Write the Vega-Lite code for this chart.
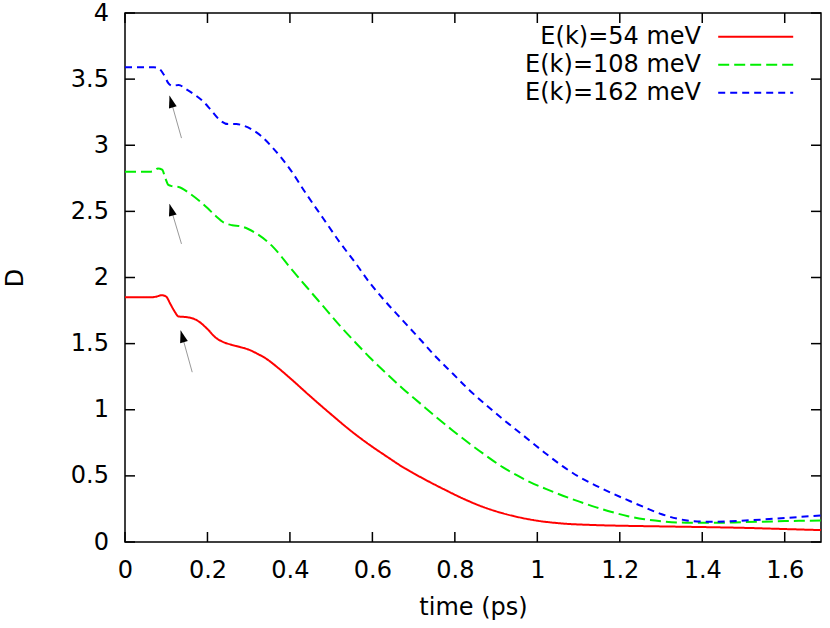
{
  "$schema": "https://vega.github.io/schema/vega-lite/v6.json",
  "width": 696,
  "height": 529,
  "autosize": {"type": "none"},
  "padding": {"left": 125, "top": 13, "right": 9, "bottom": 86},
  "config": {
    "view": {"stroke": "black", "strokeWidth": 1.5},
    "font": "DejaVu Sans",
    "axis": {
      "domain": false,
      "ticks": false,
      "tickSize": 0,
      "grid": false,
      "labelFont": "DejaVu Sans",
      "labelFontSize": 24,
      "labelColor": "black",
      "labelFlush": false,
      "labelOverlap": false,
      "titleFont": "DejaVu Sans",
      "titleFontSize": 24,
      "titleFontWeight": "normal",
      "titleColor": "black"
    },
    "legend": {
      "orient": "none",
      "legendX": 617.2,
      "legendY": 10.2,
      "padding": 0,
      "symbolType": "M-3,0L3,0",
      "symbolSize": 625,
      "symbolStrokeWidth": 2,
      "labelFont": "DejaVu Sans",
      "labelFontSize": 24,
      "labelColor": "black",
      "labelAlign": "right",
      "labelOffset": -68.2,
      "labelLimit": 0,
      "rowPadding": 2
    }
  },
  "datasets": {
    "xticks": [
      {"v": 0}, {"v": 0.2}, {"v": 0.4}, {"v": 0.6}, {"v": 0.8},
      {"v": 1}, {"v": 1.2}, {"v": 1.4}, {"v": 1.6}
    ],
    "yticks": [
      {"v": 0}, {"v": 0.5}, {"v": 1}, {"v": 1.5}, {"v": 2},
      {"v": 2.5}, {"v": 3}, {"v": 3.5}, {"v": 4}
    ],
    "curves": [
      {"series": "E(k)=54 meV", "t": 0, "D": 1.85},
      {"series": "E(k)=54 meV", "t": 0.065, "D": 1.85},
      {"series": "E(k)=54 meV", "t": 0.075, "D": 1.855},
      {"series": "E(k)=54 meV", "t": 0.09, "D": 1.866},
      {"series": "E(k)=54 meV", "t": 0.1, "D": 1.855},
      {"series": "E(k)=54 meV", "t": 0.11, "D": 1.8},
      {"series": "E(k)=54 meV", "t": 0.12, "D": 1.745},
      {"series": "E(k)=54 meV", "t": 0.13, "D": 1.705},
      {"series": "E(k)=54 meV", "t": 0.15, "D": 1.7},
      {"series": "E(k)=54 meV", "t": 0.165, "D": 1.69},
      {"series": "E(k)=54 meV", "t": 0.18, "D": 1.665},
      {"series": "E(k)=54 meV", "t": 0.2, "D": 1.61},
      {"series": "E(k)=54 meV", "t": 0.22, "D": 1.545},
      {"series": "E(k)=54 meV", "t": 0.24, "D": 1.51},
      {"series": "E(k)=54 meV", "t": 0.26, "D": 1.49},
      {"series": "E(k)=54 meV", "t": 0.28, "D": 1.473},
      {"series": "E(k)=54 meV", "t": 0.3, "D": 1.455},
      {"series": "E(k)=54 meV", "t": 0.32, "D": 1.425},
      {"series": "E(k)=54 meV", "t": 0.343, "D": 1.385},
      {"series": "E(k)=54 meV", "t": 0.37, "D": 1.32},
      {"series": "E(k)=54 meV", "t": 0.4, "D": 1.24},
      {"series": "E(k)=54 meV", "t": 0.45, "D": 1.1},
      {"series": "E(k)=54 meV", "t": 0.5, "D": 0.965},
      {"series": "E(k)=54 meV", "t": 0.55, "D": 0.835},
      {"series": "E(k)=54 meV", "t": 0.593, "D": 0.735},
      {"series": "E(k)=54 meV", "t": 0.634, "D": 0.648},
      {"series": "E(k)=54 meV", "t": 0.674, "D": 0.566},
      {"series": "E(k)=54 meV", "t": 0.72, "D": 0.485},
      {"series": "E(k)=54 meV", "t": 0.779, "D": 0.39},
      {"series": "E(k)=54 meV", "t": 0.82, "D": 0.328},
      {"series": "E(k)=54 meV", "t": 0.86, "D": 0.275},
      {"series": "E(k)=54 meV", "t": 0.9, "D": 0.232},
      {"series": "E(k)=54 meV", "t": 0.94, "D": 0.198},
      {"series": "E(k)=54 meV", "t": 0.99, "D": 0.166},
      {"series": "E(k)=54 meV", "t": 1.06, "D": 0.14},
      {"series": "E(k)=54 meV", "t": 1.14, "D": 0.128},
      {"series": "E(k)=54 meV", "t": 1.22, "D": 0.122},
      {"series": "E(k)=54 meV", "t": 1.3, "D": 0.118},
      {"series": "E(k)=54 meV", "t": 1.4, "D": 0.113},
      {"series": "E(k)=54 meV", "t": 1.5, "D": 0.107},
      {"series": "E(k)=54 meV", "t": 1.6, "D": 0.098},
      {"series": "E(k)=54 meV", "t": 1.688, "D": 0.09},
      {"series": "E(k)=108 meV", "t": 0, "D": 2.8},
      {"series": "E(k)=108 meV", "t": 0.06, "D": 2.8},
      {"series": "E(k)=108 meV", "t": 0.07, "D": 2.805},
      {"series": "E(k)=108 meV", "t": 0.08, "D": 2.825},
      {"series": "E(k)=108 meV", "t": 0.09, "D": 2.815},
      {"series": "E(k)=108 meV", "t": 0.098, "D": 2.75},
      {"series": "E(k)=108 meV", "t": 0.105, "D": 2.7},
      {"series": "E(k)=108 meV", "t": 0.115, "D": 2.69},
      {"series": "E(k)=108 meV", "t": 0.13, "D": 2.685},
      {"series": "E(k)=108 meV", "t": 0.157, "D": 2.635},
      {"series": "E(k)=108 meV", "t": 0.18, "D": 2.58},
      {"series": "E(k)=108 meV", "t": 0.2, "D": 2.525},
      {"series": "E(k)=108 meV", "t": 0.22, "D": 2.465},
      {"series": "E(k)=108 meV", "t": 0.24, "D": 2.415},
      {"series": "E(k)=108 meV", "t": 0.26, "D": 2.395},
      {"series": "E(k)=108 meV", "t": 0.28, "D": 2.388},
      {"series": "E(k)=108 meV", "t": 0.3, "D": 2.365},
      {"series": "E(k)=108 meV", "t": 0.32, "D": 2.33},
      {"series": "E(k)=108 meV", "t": 0.36, "D": 2.228},
      {"series": "E(k)=108 meV", "t": 0.4, "D": 2.077},
      {"series": "E(k)=108 meV", "t": 0.44, "D": 1.93},
      {"series": "E(k)=108 meV", "t": 0.48, "D": 1.785},
      {"series": "E(k)=108 meV", "t": 0.52, "D": 1.64},
      {"series": "E(k)=108 meV", "t": 0.56, "D": 1.505},
      {"series": "E(k)=108 meV", "t": 0.593, "D": 1.397},
      {"series": "E(k)=108 meV", "t": 0.634, "D": 1.275},
      {"series": "E(k)=108 meV", "t": 0.674, "D": 1.159},
      {"series": "E(k)=108 meV", "t": 0.715, "D": 1.05},
      {"series": "E(k)=108 meV", "t": 0.755, "D": 0.944},
      {"series": "E(k)=108 meV", "t": 0.796, "D": 0.84},
      {"series": "E(k)=108 meV", "t": 0.836, "D": 0.743},
      {"series": "E(k)=108 meV", "t": 0.876, "D": 0.652},
      {"series": "E(k)=108 meV", "t": 0.916, "D": 0.566},
      {"series": "E(k)=108 meV", "t": 0.95, "D": 0.505},
      {"series": "E(k)=108 meV", "t": 0.981, "D": 0.455},
      {"series": "E(k)=108 meV", "t": 1.022, "D": 0.4},
      {"series": "E(k)=108 meV", "t": 1.062, "D": 0.35},
      {"series": "E(k)=108 meV", "t": 1.102, "D": 0.305},
      {"series": "E(k)=108 meV", "t": 1.143, "D": 0.262},
      {"series": "E(k)=108 meV", "t": 1.183, "D": 0.225},
      {"series": "E(k)=108 meV", "t": 1.22, "D": 0.195},
      {"series": "E(k)=108 meV", "t": 1.26, "D": 0.172},
      {"series": "E(k)=108 meV", "t": 1.3, "D": 0.157},
      {"series": "E(k)=108 meV", "t": 1.36, "D": 0.146},
      {"series": "E(k)=108 meV", "t": 1.42, "D": 0.145},
      {"series": "E(k)=108 meV", "t": 1.5, "D": 0.15},
      {"series": "E(k)=108 meV", "t": 1.6, "D": 0.158},
      {"series": "E(k)=108 meV", "t": 1.688, "D": 0.163},
      {"series": "E(k)=162 meV", "t": 0, "D": 3.59},
      {"series": "E(k)=162 meV", "t": 0.07, "D": 3.59},
      {"series": "E(k)=162 meV", "t": 0.08, "D": 3.585},
      {"series": "E(k)=162 meV", "t": 0.095, "D": 3.53},
      {"series": "E(k)=162 meV", "t": 0.105, "D": 3.47},
      {"series": "E(k)=162 meV", "t": 0.115, "D": 3.45},
      {"series": "E(k)=162 meV", "t": 0.13, "D": 3.455},
      {"series": "E(k)=162 meV", "t": 0.15, "D": 3.42},
      {"series": "E(k)=162 meV", "t": 0.17, "D": 3.38},
      {"series": "E(k)=162 meV", "t": 0.19, "D": 3.33},
      {"series": "E(k)=162 meV", "t": 0.21, "D": 3.26},
      {"series": "E(k)=162 meV", "t": 0.23, "D": 3.19},
      {"series": "E(k)=162 meV", "t": 0.25, "D": 3.16},
      {"series": "E(k)=162 meV", "t": 0.27, "D": 3.16},
      {"series": "E(k)=162 meV", "t": 0.29, "D": 3.145},
      {"series": "E(k)=162 meV", "t": 0.31, "D": 3.115},
      {"series": "E(k)=162 meV", "t": 0.33, "D": 3.07},
      {"series": "E(k)=162 meV", "t": 0.36, "D": 2.975},
      {"series": "E(k)=162 meV", "t": 0.4, "D": 2.82},
      {"series": "E(k)=162 meV", "t": 0.44, "D": 2.63},
      {"series": "E(k)=162 meV", "t": 0.48, "D": 2.45},
      {"series": "E(k)=162 meV", "t": 0.52, "D": 2.27},
      {"series": "E(k)=162 meV", "t": 0.56, "D": 2.105},
      {"series": "E(k)=162 meV", "t": 0.593, "D": 1.962},
      {"series": "E(k)=162 meV", "t": 0.634, "D": 1.81},
      {"series": "E(k)=162 meV", "t": 0.674, "D": 1.674},
      {"series": "E(k)=162 meV", "t": 0.715, "D": 1.535},
      {"series": "E(k)=162 meV", "t": 0.755, "D": 1.397},
      {"series": "E(k)=162 meV", "t": 0.796, "D": 1.27},
      {"series": "E(k)=162 meV", "t": 0.836, "D": 1.146},
      {"series": "E(k)=162 meV", "t": 0.876, "D": 1.035},
      {"series": "E(k)=162 meV", "t": 0.916, "D": 0.93},
      {"series": "E(k)=162 meV", "t": 0.95, "D": 0.845},
      {"series": "E(k)=162 meV", "t": 0.981, "D": 0.768},
      {"series": "E(k)=162 meV", "t": 1.022, "D": 0.665},
      {"series": "E(k)=162 meV", "t": 1.062, "D": 0.572},
      {"series": "E(k)=162 meV", "t": 1.102, "D": 0.491},
      {"series": "E(k)=162 meV", "t": 1.143, "D": 0.425},
      {"series": "E(k)=162 meV", "t": 1.183, "D": 0.366},
      {"series": "E(k)=162 meV", "t": 1.224, "D": 0.31},
      {"series": "E(k)=162 meV", "t": 1.26, "D": 0.262},
      {"series": "E(k)=162 meV", "t": 1.3, "D": 0.212},
      {"series": "E(k)=162 meV", "t": 1.34, "D": 0.176},
      {"series": "E(k)=162 meV", "t": 1.38, "D": 0.157},
      {"series": "E(k)=162 meV", "t": 1.42, "D": 0.153},
      {"series": "E(k)=162 meV", "t": 1.47, "D": 0.157},
      {"series": "E(k)=162 meV", "t": 1.52, "D": 0.165},
      {"series": "E(k)=162 meV", "t": 1.58, "D": 0.177},
      {"series": "E(k)=162 meV", "t": 1.63, "D": 0.188},
      {"series": "E(k)=162 meV", "t": 1.688, "D": 0.2}
    ],
    "arrows": [
      {"tail_t": 0.137, "tail_D": 3.054, "head_t": 0.108, "head_D": 3.374},
      {"tail_t": 0.137, "tail_D": 2.254, "head_t": 0.108, "head_D": 2.556},
      {"tail_t": 0.163, "tail_D": 1.284, "head_t": 0.135, "head_D": 1.599}
    ]
  },
  "layer": [
    {
      "data": {"name": "curves"},
      "mark": {"type": "line", "strokeWidth": 2, "interpolate": "monotone"},
      "encoding": {
        "x": {
          "field": "t",
          "type": "quantitative",
          "scale": {"domain": [0, 1.688], "nice": false, "zero": false},
          "axis": {
            "orient": "bottom",
            "values": [0, 0.2, 0.4, 0.6, 0.8, 1, 1.2, 1.4, 1.6],
            "format": "~g",
            "labelBaseline": "alphabetic",
            "labelPadding": 35.6,
            "title": "time (ps)",
            "titleBaseline": "alphabetic",
            "titleY": 72
          }
        },
        "y": {
          "field": "D",
          "type": "quantitative",
          "scale": {"domain": [0, 4], "nice": false},
          "axis": {
            "orient": "left",
            "values": [0, 0.5, 1, 1.5, 2, 2.5, 3, 3.5, 4],
            "format": "~g",
            "labelPadding": 16.5,
            "title": "D",
            "titleAngle": 270,
            "titleBaseline": "alphabetic",
            "titleX": -103,
            "titleY": 264.5
          }
        },
        "color": {
          "field": "series",
          "type": "nominal",
          "title": null,
          "scale": {
            "domain": ["E(k)=54 meV", "E(k)=108 meV", "E(k)=162 meV"],
            "range": ["#ff0000", "#00ee00", "#0000ff"]
          }
        },
        "strokeDash": {
          "field": "series",
          "type": "nominal",
          "title": null,
          "scale": {
            "domain": ["E(k)=54 meV", "E(k)=108 meV", "E(k)=162 meV"],
            "range": [[1, 0], [11, 5], [7, 5]]
          }
        }
      }
    },
    {
      "data": {"name": "xticks"},
      "mark": {"type": "rule", "color": "black", "strokeWidth": 1.5},
      "encoding": {
        "x": {"field": "v", "type": "quantitative"},
        "y": {"datum": 0, "type": "quantitative"},
        "y2": {"datum": 0.0756}
      }
    },
    {
      "data": {"name": "xticks"},
      "mark": {"type": "rule", "color": "black", "strokeWidth": 1.5},
      "encoding": {
        "x": {"field": "v", "type": "quantitative"},
        "y": {"datum": 4, "type": "quantitative"},
        "y2": {"datum": 3.9244}
      }
    },
    {
      "data": {"name": "yticks"},
      "mark": {"type": "rule", "color": "black", "strokeWidth": 1.5},
      "encoding": {
        "y": {"field": "v", "type": "quantitative"},
        "x": {"datum": 0, "type": "quantitative"},
        "x2": {"datum": 0.0243}
      }
    },
    {
      "data": {"name": "yticks"},
      "mark": {"type": "rule", "color": "black", "strokeWidth": 1.5},
      "encoding": {
        "y": {"field": "v", "type": "quantitative"},
        "x": {"datum": 1.688, "type": "quantitative"},
        "x2": {"datum": 1.6637}
      }
    },
    {
      "data": {"name": "arrows"},
      "mark": {"type": "rule", "color": "#999999", "strokeWidth": 1},
      "encoding": {
        "x": {"field": "tail_t", "type": "quantitative"},
        "y": {"field": "tail_D", "type": "quantitative"},
        "x2": {"field": "head_t"},
        "y2": {"field": "head_D"}
      }
    },
    {
      "data": {"name": "arrows"},
      "mark": {
        "type": "point",
        "shape": "M0,0L-0.4,1.2L0.4,1.2Z",
        "filled": true,
        "color": "black",
        "opacity": 1,
        "size": 400,
        "angle": 344
      },
      "encoding": {
        "x": {"field": "head_t", "type": "quantitative"},
        "y": {"field": "head_D", "type": "quantitative"}
      }
    }
  ]
}
